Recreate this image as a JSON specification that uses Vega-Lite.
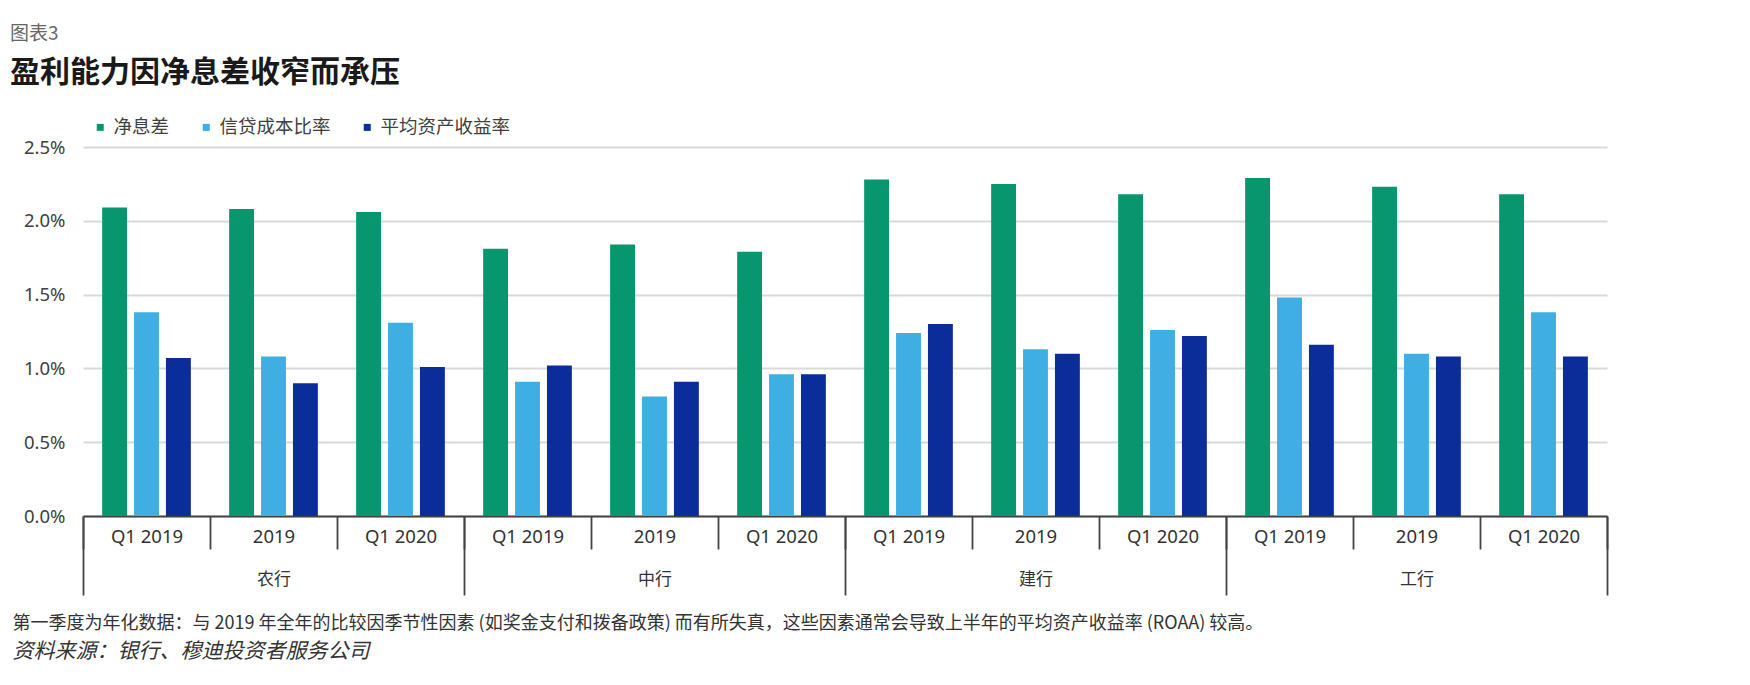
{
  "$schema": "https://vega.github.io/schema/vega-lite/v6.json",
  "width": 1524,
  "height": 369,
  "autosize": {"type": "none"},
  "padding": {"left": 83, "top": 147, "right": 143, "bottom": 169},
  "background": "white",
  "config": {"view": {"stroke": null}, "font": "Noto Sans CJK SC"},
  "title": {
    "text": "图表3",
    "subtitle": "盈利能力因净息差收窄而承压",
    "anchor": "start",
    "frame": "group",
    "dx": -73,
    "fontSize": 19,
    "fontWeight": "normal",
    "color": "#666666",
    "subtitleFontSize": 30,
    "subtitleFontWeight": "bold",
    "subtitleColor": "#1a1a1a",
    "subtitlePadding": 14,
    "offset": 30
  },
  "layer": [
    {
      "data": {
        "values": [
          {"key": "农行|Q1 2019", "bank": "农行", "period": "Q1 2019", "series": "净息差", "value": 2.09},
          {"key": "农行|Q1 2019", "bank": "农行", "period": "Q1 2019", "series": "信贷成本比率", "value": 1.38},
          {"key": "农行|Q1 2019", "bank": "农行", "period": "Q1 2019", "series": "平均资产收益率", "value": 1.07},
          {"key": "农行|2019", "bank": "农行", "period": "2019", "series": "净息差", "value": 2.08},
          {"key": "农行|2019", "bank": "农行", "period": "2019", "series": "信贷成本比率", "value": 1.08},
          {"key": "农行|2019", "bank": "农行", "period": "2019", "series": "平均资产收益率", "value": 0.90},
          {"key": "农行|Q1 2020", "bank": "农行", "period": "Q1 2020", "series": "净息差", "value": 2.06},
          {"key": "农行|Q1 2020", "bank": "农行", "period": "Q1 2020", "series": "信贷成本比率", "value": 1.31},
          {"key": "农行|Q1 2020", "bank": "农行", "period": "Q1 2020", "series": "平均资产收益率", "value": 1.01},
          {"key": "中行|Q1 2019", "bank": "中行", "period": "Q1 2019", "series": "净息差", "value": 1.81},
          {"key": "中行|Q1 2019", "bank": "中行", "period": "Q1 2019", "series": "信贷成本比率", "value": 0.91},
          {"key": "中行|Q1 2019", "bank": "中行", "period": "Q1 2019", "series": "平均资产收益率", "value": 1.02},
          {"key": "中行|2019", "bank": "中行", "period": "2019", "series": "净息差", "value": 1.84},
          {"key": "中行|2019", "bank": "中行", "period": "2019", "series": "信贷成本比率", "value": 0.81},
          {"key": "中行|2019", "bank": "中行", "period": "2019", "series": "平均资产收益率", "value": 0.91},
          {"key": "中行|Q1 2020", "bank": "中行", "period": "Q1 2020", "series": "净息差", "value": 1.79},
          {"key": "中行|Q1 2020", "bank": "中行", "period": "Q1 2020", "series": "信贷成本比率", "value": 0.96},
          {"key": "中行|Q1 2020", "bank": "中行", "period": "Q1 2020", "series": "平均资产收益率", "value": 0.96},
          {"key": "建行|Q1 2019", "bank": "建行", "period": "Q1 2019", "series": "净息差", "value": 2.28},
          {"key": "建行|Q1 2019", "bank": "建行", "period": "Q1 2019", "series": "信贷成本比率", "value": 1.24},
          {"key": "建行|Q1 2019", "bank": "建行", "period": "Q1 2019", "series": "平均资产收益率", "value": 1.30},
          {"key": "建行|2019", "bank": "建行", "period": "2019", "series": "净息差", "value": 2.25},
          {"key": "建行|2019", "bank": "建行", "period": "2019", "series": "信贷成本比率", "value": 1.13},
          {"key": "建行|2019", "bank": "建行", "period": "2019", "series": "平均资产收益率", "value": 1.10},
          {"key": "建行|Q1 2020", "bank": "建行", "period": "Q1 2020", "series": "净息差", "value": 2.18},
          {"key": "建行|Q1 2020", "bank": "建行", "period": "Q1 2020", "series": "信贷成本比率", "value": 1.26},
          {"key": "建行|Q1 2020", "bank": "建行", "period": "Q1 2020", "series": "平均资产收益率", "value": 1.22},
          {"key": "工行|Q1 2019", "bank": "工行", "period": "Q1 2019", "series": "净息差", "value": 2.29},
          {"key": "工行|Q1 2019", "bank": "工行", "period": "Q1 2019", "series": "信贷成本比率", "value": 1.48},
          {"key": "工行|Q1 2019", "bank": "工行", "period": "Q1 2019", "series": "平均资产收益率", "value": 1.16},
          {"key": "工行|2019", "bank": "工行", "period": "2019", "series": "净息差", "value": 2.23},
          {"key": "工行|2019", "bank": "工行", "period": "2019", "series": "信贷成本比率", "value": 1.10},
          {"key": "工行|2019", "bank": "工行", "period": "2019", "series": "平均资产收益率", "value": 1.08},
          {"key": "工行|Q1 2020", "bank": "工行", "period": "Q1 2020", "series": "净息差", "value": 2.18},
          {"key": "工行|Q1 2020", "bank": "工行", "period": "Q1 2020", "series": "信贷成本比率", "value": 1.38},
          {"key": "工行|Q1 2020", "bank": "工行", "period": "Q1 2020", "series": "平均资产收益率", "value": 1.08}
        ]
      },
      "mark": {"type": "bar"},
      "encoding": {
        "x": {
          "field": "key",
          "type": "nominal",
          "sort": ["农行|Q1 2019", "农行|2019", "农行|Q1 2020", "中行|Q1 2019", "中行|2019", "中行|Q1 2020", "建行|Q1 2019", "建行|2019", "建行|Q1 2020", "工行|Q1 2019", "工行|2019", "工行|Q1 2020"],
          "scale": {"paddingInner": 0, "paddingOuter": 0},
          "axis": {
            "orient": "bottom",
            "title": "资料来源：银行、穆迪投资者服务公司",
            "titleX": -71,
            "titleY": 135,
            "titleAlign": "left",
            "titleBaseline": "middle",
            "titleFontStyle": "italic",
            "titleFontWeight": "normal",
            "titleFontSize": 21,
            "titleColor": "#333333",
            "labelExpr": "split(datum.label, '|')[1]",
            "labelAngle": 0,
            "labelFont": "Noto Sans",
            "labelFontSize": 18.5,
            "labelColor": "#333333",
            "labelBaseline": "middle",
            "labelPadding": -13,
            "labelOverlap": false,
            "tickBand": "extent",
            "tickSize": 33,
            "tickColor": "#444444",
            "tickWidth": 1.8,
            "domainColor": "#444444",
            "domainWidth": 1.8,
            "grid": false
          }
        },
        "xOffset": {
          "field": "series",
          "type": "nominal",
          "sort": ["净息差", "信贷成本比率", "平均资产收益率"],
          "scale": {"paddingInner": 0.22, "paddingOuter": 0.6}
        },
        "y": {
          "field": "value",
          "type": "quantitative",
          "scale": {"domain": [0, 2.5]},
          "axis": {
            "values": [0, 0.5, 1, 1.5, 2, 2.5],
            "labelExpr": "format(datum.value, '.1f') + '%'",
            "title": null,
            "domain": false,
            "ticks": false,
            "grid": true,
            "gridColor": "#d9d9d9",
            "gridWidth": 2,
            "labelFont": "Noto Sans",
            "labelFontSize": 18.5,
            "labelColor": "#404040",
            "labelPadding": 18
          }
        },
        "color": {
          "field": "series",
          "type": "nominal",
          "sort": ["净息差", "信贷成本比率", "平均资产收益率"],
          "scale": {"domain": ["净息差", "信贷成本比率", "平均资产收益率"], "range": ["#08966F", "#3FAEE3", "#0B2D9A"]},
          "legend": {
            "title": null,
            "orient": "none",
            "legendX": 8,
            "legendY": -29,
            "direction": "horizontal",
            "symbolType": "square",
            "symbolSize": 49,
            "symbolStrokeWidth": 0,
            "labelFontSize": 18.5,
            "labelColor": "#404040",
            "labelOffset": 4,
            "columnPadding": 27
          }
        }
      }
    },
    {
      "data": {"values": [{"bank": "农行"}, {"bank": "中行"}, {"bank": "建行"}, {"bank": "工行"}]},
      "mark": {"type": "rule", "opacity": 0},
      "encoding": {
        "x": {
          "field": "bank",
          "type": "nominal",
          "sort": ["农行", "中行", "建行", "工行"],
          "scale": {"paddingInner": 0, "paddingOuter": 0},
          "axis": {
            "orient": "bottom",
            "title": "第一季度为年化数据：与 2019 年全年的比较因季节性因素 (如奖金支付和拨备政策) 而有所失真，这些因素通常会导致上半年的平均资产收益率 (ROAA) 较高。",
            "titleX": -71,
            "titleY": 107,
            "titleAlign": "left",
            "titleBaseline": "middle",
            "titleFontWeight": "normal",
            "titleFontSize": 18,
            "titleColor": "#333333",
            "domain": false,
            "grid": false,
            "labelAngle": 0,
            "labelFontSize": 17,
            "labelColor": "#333333",
            "labelBaseline": "middle",
            "labelPadding": -16,
            "tickBand": "extent",
            "tickSize": 79,
            "tickColor": "#444444",
            "tickWidth": 1.8
          }
        }
      }
    }
  ],
  "resolve": {"scale": {"x": "independent"}, "axis": {"x": "independent"}}
}
